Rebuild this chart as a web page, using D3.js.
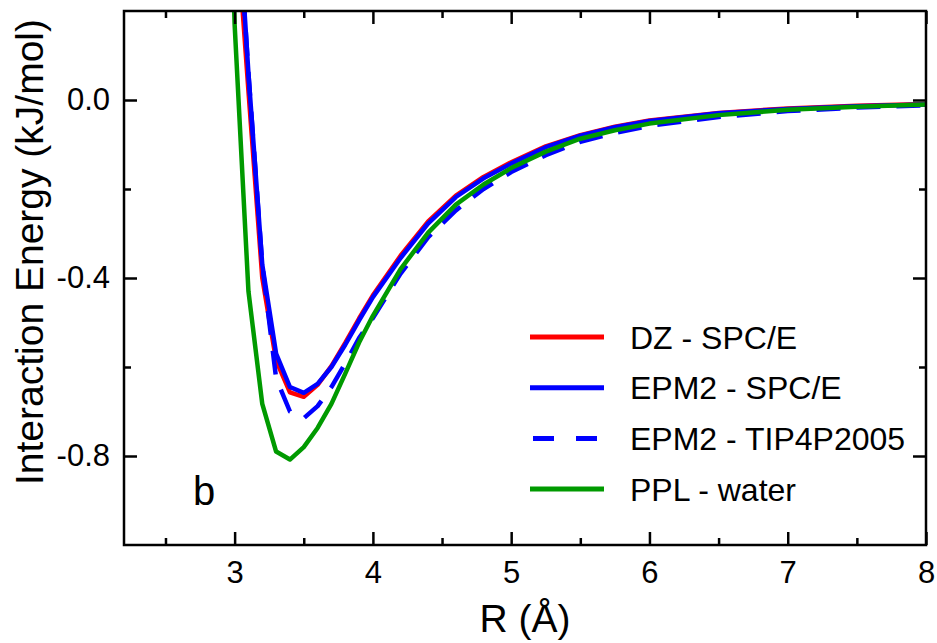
<!DOCTYPE html>
<html>
<head>
<meta charset="utf-8">
<script src="https://cdn.jsdelivr.net/npm/d3@7"></script>
<style>
    html, body { margin: 0; padding: 0; background: #fff; }
    svg text { font-family: Arial, "Liberation Sans", Helvetica, sans-serif; fill: #000; }
</style>
</head>
<body>
<div id="chart"></div>
<script>
// separation R (Å) and interaction energies (kJ/mol)
const R = [2.9, 3.0, 3.1, 3.2, 3.3, 3.4, 3.5, 3.6, 3.7, 3.8, 3.9, 4.0, 4.2, 4.4, 4.6, 4.8, 5.0, 5.25, 5.5, 5.75, 6.0, 6.5, 7.0, 7.5, 8.0];
const dzSpce = [1.4, 0.45, 0.02, -0.40, -0.585, -0.657, -0.667, -0.640, -0.598, -0.546, -0.491, -0.439, -0.350, -0.273, -0.215, -0.173, -0.140, -0.104, -0.079, -0.060, -0.046, -0.029, -0.019, -0.013, -0.009];
const epm2Spce = [1.5, 0.55, 0.06, -0.37, -0.570, -0.645, -0.658, -0.638, -0.600, -0.550, -0.495, -0.443, -0.355, -0.277, -0.218, -0.176, -0.143, -0.106, -0.080, -0.061, -0.047, -0.030, -0.020, -0.014, -0.010];
const epm2Tip4p = [1.5, 0.55, 0.06, -0.37, -0.625, -0.700, -0.715, -0.688, -0.645, -0.592, -0.535, -0.490, -0.390, -0.308, -0.248, -0.200, -0.162, -0.124, -0.094, -0.074, -0.058, -0.038, -0.025, -0.017, -0.012];
const pplWater = [1.2, 0.17, -0.43, -0.683, -0.790, -0.808, -0.780, -0.737, -0.683, -0.615, -0.545, -0.485, -0.380, -0.298, -0.235, -0.190, -0.153, -0.116, -0.087, -0.068, -0.053, -0.034, -0.022, -0.015, -0.010];

const seriesNames = ["DZ - SPC/E", "EPM2 - SPC/E", "EPM2 - TIP4P2005", "PPL - water"];
const seriesValues = [dzSpce, epm2Spce, epm2Tip4p, pplWater];
const seriesColors = ["#ff0000", "#0000ff", "#0000ff", "#009a00"];
const seriesDash = [null, null, "24,16", null];

const xMajor = [3, 4, 5, 6, 7, 8];
const xMinor = [2.5, 3.5, 4.5, 5.5, 6.5, 7.5];
const yMajor = [0.0, -0.4, -0.8];
const yMinor = [-0.2, -0.6];

const width = 937;
const height = 643;
const margin = { left: 124, right: 11, top: 11, bottom: 98 };
const plotW = width - margin.left - margin.right;
const plotH = height - margin.top - margin.bottom;

const x = d3.scaleLinear().domain([2.2, 8.0]).range([0, plotW]);
const y = d3.scaleLinear().domain([-1.0, 0.2]).range([plotH, 0]);

const svg = d3.select("#chart")
    .append("svg")
    .attr("width", width)
    .attr("height", height);

const g = svg.append("g")
    .attr("transform", `translate(${margin.left},${margin.top})`);

g.append("clipPath")
    .attr("id", "plot-clip")
    .append("rect")
    .attr("width", plotW)
    .attr("height", plotH);

// curves
const line = d3.line()
    .x(d => x(d[0]))
    .y(d => y(d[1]));

const curves = g.append("g").attr("clip-path", "url(#plot-clip)");
seriesValues.forEach((vals, i) => {
    curves.append("path")
        .datum(R.map((r, j) => [r, vals[j]]))
        .attr("fill", "none")
        .attr("stroke", seriesColors[i])
        .attr("stroke-width", 4.5)
        .attr("stroke-linejoin", "round")
        .attr("stroke-dasharray", seriesDash[i])
        .attr("d", line);
});

// frame with inward ticks on all four sides
const tickStyle = sel => sel.call(s => s.select(".domain").remove())
    .call(s => s.selectAll(".tick line").attr("stroke", "#000").attr("stroke-width", 2.5));

const fmtY = d => d.toFixed(1);

g.append("g").attr("transform", `translate(0,${plotH})`)
    .call(d3.axisBottom(x).tickValues(xMinor).tickSize(-7).tickFormat(""))
    .call(tickStyle);
g.append("g").attr("transform", `translate(0,${plotH})`)
    .call(d3.axisBottom(x).tickValues(xMajor).tickSize(-13).tickPadding(16).tickFormat(d3.format("d")))
    .call(tickStyle)
    .call(s => s.selectAll("text").attr("font-size", 31).attr("dy", "0.71em"));
g.append("g")
    .call(d3.axisTop(x).tickValues(xMinor).tickSize(-7).tickFormat(""))
    .call(tickStyle);
g.append("g")
    .call(d3.axisTop(x).tickValues(xMajor).tickSize(-13).tickFormat(""))
    .call(tickStyle);

g.append("g")
    .call(d3.axisLeft(y).tickValues(yMinor).tickSize(-7).tickFormat(""))
    .call(tickStyle);
g.append("g")
    .call(d3.axisLeft(y).tickValues(yMajor).tickSize(-13).tickPadding(14).tickFormat(fmtY))
    .call(tickStyle)
    .call(s => s.selectAll("text").attr("font-size", 31));
g.append("g").attr("transform", `translate(${plotW},0)`)
    .call(d3.axisRight(y).tickValues(yMinor).tickSize(-7).tickFormat(""))
    .call(tickStyle);
g.append("g").attr("transform", `translate(${plotW},0)`)
    .call(d3.axisRight(y).tickValues(yMajor).tickSize(-13).tickFormat(""))
    .call(tickStyle);

g.append("rect")
    .attr("width", plotW)
    .attr("height", plotH)
    .attr("fill", "none")
    .attr("stroke", "#000")
    .attr("stroke-width", 2.5);

// axis titles
svg.append("text")
    .attr("x", margin.left + plotW / 2)
    .attr("y", 632)
    .attr("text-anchor", "middle")
    .attr("font-size", 39)
    .text("R (Å)");

svg.append("text")
    .attr("transform", `translate(43,${margin.top + plotH / 2 - 26}) rotate(-90)`)
    .attr("text-anchor", "middle")
    .attr("font-size", 39)
    .text("Interaction Energy (kJ/mol)");

// panel letter
svg.append("text")
    .attr("x", 193)
    .attr("y", 505)
    .attr("font-size", 40)
    .text("b");

// legend
const legend = svg.append("g").attr("transform", "translate(530,337)");
seriesNames.forEach((name, i) => {
    const row = legend.append("g").attr("transform", `translate(0,${i * 50.7})`);
    row.append("line")
        .attr("x1", i === 2 ? 3 : 0)
        .attr("x2", 74)
        .attr("stroke", seriesColors[i])
        .attr("stroke-width", 5)
        .attr("stroke-dasharray", i === 2 ? "21,22" : null);
    row.append("text")
        .attr("x", 100)
        .attr("dy", "0.36em")
        .attr("font-size", 32)
        .text(name);
});
</script>
</body>
</html>
